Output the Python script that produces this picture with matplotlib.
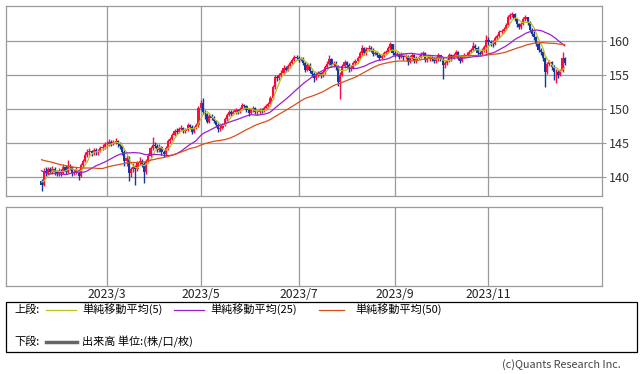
import numpy as np
import pandas as pd
import matplotlib
matplotlib.use("Agg")
import matplotlib.pyplot as plt
from matplotlib.lines import Line2D
from matplotlib.patches import Rectangle

plt.rcParams['font.family'] = ['Noto Sans CJK JP', 'DejaVu Sans']

# ---- data -------------------------------------------------------------
# closes before the visible window (used only for the moving averages)
pre_close = [146.0, 144.6, 144.2, 144.4, 145.0, 145.5, 145.3, 145.1, 144.9, 144.9,
             144.6, 144.1, 144.0, 143.7, 143.6,
             141.9, 142.0, 143.2, 143.3, 143.6, 143.6, 143.4, 143.6, 144.3, 145.2,
             145.4, 144.5, 144.6, 140.4, 139.7, 140.5, 141.2, 141.7, 142.2, 141.8,
             141.6, 140.4,
             139.2, 138.4, 139.6, 139.3, 140.8, 141.7, 141.9, 141.8, 140.4, 138.7,
             139.0, 139.4]

closes = [
    # Jan
    138.8, 140.9, 140.6, 141.1, 140.8, 141.2, 140.7, 140.5, 140.9, 140.6,
    # Feb
    141.5, 140.8, 141.6, 141.4, 140.6, 140.8, 141.0, 140.2, 141.8, 142.4,
    143.3, 143.6, 143.8, 143.5, 144.0, 143.6, 143.8, 144.3, 144.4, 144.8,
    # Mar
    144.9, 145.2, 144.9, 145.1, 145.3, 144.8, 144.5, 143.6, 142.3, 142.8,
    140.6, 141.1, 141.5, 141.2, 142.0, 142.4, 141.9, 140.7, 142.4, 143.1,
    144.2, 144.7, 144.6,
    # Apr
    144.0, 144.4, 143.7, 143.4, 144.2, 145.3, 145.6, 146.2, 146.8, 146.6,
    147.0, 147.2, 146.8, 146.9, 147.6, 147.4, 146.6, 147.2, 147.6, 150.2,
    # May
    150.9, 149.6, 149.2, 148.1, 148.9, 148.7, 148.2, 147.7, 147.0, 147.2,
    147.7, 148.5, 149.1, 149.5, 149.3, 149.5, 149.8, 149.6, 150.0, 150.6,
    150.5, 149.9, 149.4,
    # Jun
    149.8, 150.2, 149.5, 149.6, 149.8, 149.7, 150.1, 150.4, 150.8, 151.6,
    153.3, 154.7, 154.5, 155.0, 155.3, 156.1, 155.8, 156.3, 156.8, 157.2,
    157.7, 157.5,
    # Jul
    157.2, 157.4, 156.8, 155.8, 156.5, 155.6, 155.2, 154.6, 155.0, 155.3,
    154.9, 155.4, 156.2, 156.6, 157.3, 156.5, 156.7, 156.2, 154.0, 155.0,
    156.3,
    # Aug
    156.9, 156.5, 155.9, 156.1, 156.7, 157.0, 157.5, 158.3, 158.9, 158.2,
    158.8, 159.0, 158.7, 158.1, 158.3, 158.0, 157.5, 157.8, 158.2, 158.4,
    158.9, 159.5, 158.3,
    # Sep
    158.0, 158.1, 157.7, 158.1, 157.6, 157.8, 156.9, 157.6, 157.9, 157.0,
    157.5, 157.7, 158.1, 158.2, 157.2, 157.4, 157.6, 157.4, 157.1, 157.3,
    157.9,
    # Oct
    157.3, 156.5, 156.7, 157.1, 158.0, 157.5, 158.0, 158.4, 157.5, 157.1,
    157.7, 157.9, 158.0, 158.4, 158.7, 159.3, 159.0, 158.2, 158.1, 158.6,
    159.1, 160.2,
    # Nov
    159.8, 159.7, 159.6, 160.5, 160.8, 161.3, 161.4, 161.8, 162.3, 163.5,
    163.8, 164.0, 163.2, 162.5, 162.0, 162.5, 163.2, 163.5, 162.7, 161.6,
    161.1, 160.6,
    # Dec
    159.6, 158.7, 158.4, 157.5, 155.4, 156.6, 156.9, 156.2, 155.4, 155.5,
    155.0, 155.6, 157.5, 156.8,
]

highs = [
    139.7, 141.3, 141.4, 141.5, 141.4, 141.6, 141.5, 141.0, 141.3, 141.2,
    141.9, 141.7, 142.5, 141.9, 141.6, 141.2, 141.4, 141.2, 142.0, 142.7,
    143.6, 144.1, 144.2, 144.0, 144.3, 144.2, 144.1, 144.6, 144.8, 145.2,
    145.3, 145.6, 145.4, 145.4, 145.7, 145.5, 145.1, 144.7, 143.9, 143.3,
    143.1, 141.5, 142.0, 141.8, 142.4, 142.9, 142.6, 142.2, 142.7, 143.5,
    144.5, 145.9, 145.2,
    144.9, 144.8, 144.6, 144.0, 144.5, 145.6, 145.9, 146.5, 147.1, 147.2,
    147.3, 147.6, 147.4, 147.2, 147.9, 147.8, 147.6, 147.5, 148.0, 150.5,
    151.3, 151.6, 149.9, 149.4, 149.2, 149.2, 148.9, 148.4, 147.9, 147.6,
    148.0, 148.8, 149.4, 149.8, 149.8, 149.8, 150.1, 150.0, 150.3, 150.9,
    150.8, 150.6, 150.1,
    150.1, 150.5, 150.3, 149.9, 150.1, 150.1, 150.4, 150.7, 151.1, 151.9,
    153.6, 155.0, 155.0, 155.3, 155.7, 156.4, 156.3, 156.6, 157.1, 157.5,
    158.0, 158.0,
    157.8, 157.7, 157.6, 157.0, 156.8, 156.7, 155.8, 155.4, 155.3, 155.6,
    155.5, 155.7, 156.5, 157.0, 157.9, 157.5, 157.0, 157.0, 156.4, 155.4,
    156.6,
    157.2, 157.1, 156.7, 156.5, 157.0, 157.3, 157.8, 158.6, 159.4, 159.1,
    159.1, 159.4, 159.2, 158.9, 158.6, 158.6, 158.2, 158.1, 158.5, 158.7,
    159.2, 159.8, 159.6,
    158.6, 158.4, 158.3, 158.4, 158.3, 158.1, 158.0, 157.9, 158.2, 158.1,
    157.8, 158.0, 158.4, 158.6, 158.4, 157.7, 157.9, 157.8, 157.6, 157.6,
    158.2,
    158.0, 157.6, 157.0, 157.4, 158.3, 158.1, 158.3, 158.7, 158.6, 157.8,
    158.0, 158.2, 158.4, 158.7, 159.0, 159.9, 159.6, 159.2, 158.5, 158.9,
    159.4, 160.9,
    160.6, 160.2, 160.1, 160.8, 161.1, 161.6, 161.8, 162.1, 162.6, 163.8,
    164.1, 164.3, 164.1, 163.4, 162.7, 162.8, 163.5, 163.8, 163.6, 162.9,
    161.9, 161.4,
    160.8, 159.8, 159.0, 158.6, 157.7, 156.9, 157.2, 157.1, 156.4, 155.9,
    155.8, 155.9, 158.4, 157.7,
]

lows = [
    137.9, 138.6, 140.2, 140.3, 140.4, 140.5, 140.3, 140.1, 140.2, 140.2,
    140.4, 140.4, 140.6, 141.0, 140.2, 140.3, 140.5, 139.6, 140.0, 141.5,
    142.2, 143.0, 143.3, 143.1, 143.2, 143.3, 143.3, 143.6, 144.0, 144.1,
    144.4, 144.6, 144.5, 144.7, 144.8, 144.4, 144.1, 143.2, 141.6, 141.6,
    139.4, 140.0, 140.8, 138.8, 140.9, 141.7, 141.4, 139.1, 140.5, 142.1,
    142.9, 144.0, 144.2,
    143.6, 143.7, 143.3, 143.0, 143.2, 144.0, 145.0, 145.4, 146.0, 146.3,
    146.4, 146.8, 146.4, 146.5, 146.7, 147.0, 146.3, 146.4, 147.0, 147.4,
    149.9, 149.3, 148.6, 147.9, 147.9, 148.4, 147.9, 147.3, 146.6, 146.8,
    147.0, 147.5, 148.3, 148.9, 149.0, 149.1, 149.3, 149.3, 149.4, 149.8,
    150.2, 149.6, 149.0,
    149.2, 149.6, 149.2, 149.1, 149.3, 149.4, 149.5, 149.9, 150.2, 150.5,
    151.4, 153.0, 154.1, 154.2, 154.7, 155.1, 155.4, 155.6, 156.0, 156.6,
    157.0, 157.2,
    156.9, 157.0, 156.5, 155.5, 155.6, 155.3, 154.7, 153.9, 154.3, 154.7,
    154.5, 154.7, 155.2, 156.0, 156.4, 156.2, 156.2, 155.8, 153.4, 151.4,
    154.8,
    156.0, 156.0, 155.5, 155.6, 155.9, 156.4, 156.8, 157.3, 158.0, 157.9,
    158.0, 158.5, 158.4, 157.8, 157.9, 157.7, 157.2, 157.3, 157.6, 158.0,
    158.2, 158.7, 158.0,
    157.7, 157.8, 157.3, 157.5, 157.2, 157.4, 156.5, 156.7, 157.4, 156.7,
    156.8, 157.3, 157.5, 157.8, 156.9, 156.9, 157.1, 157.1, 156.7, 156.8,
    157.1,
    157.0, 154.4, 156.0, 156.4, 156.9, 157.1, 157.3, 157.8, 157.2, 156.8,
    156.9, 157.5, 157.6, 157.8, 158.2, 158.5, 158.7, 157.9, 157.8, 157.9,
    158.4, 158.3,
    159.4, 159.3, 159.1, 159.4, 160.2, 160.6, 161.0, 161.2, 161.6, 162.1,
    163.2, 163.5, 162.9, 162.1, 161.7, 161.8, 162.3, 163.0, 162.4, 161.3,
    160.8, 160.2,
    159.2, 158.4, 158.0, 157.1, 153.2, 155.1, 156.3, 155.8, 154.3, 153.8,
    154.6, 154.8, 155.4, 156.4,
]

date_labels = ["2023/3", "2023/5", "2023/7", "2023/9", "2023/11"]
ma_windows = [5, 25, 50]
ma_names = ["単純移動平均(5)", "単純移動平均(25)", "単純移動平均(50)"]
ma_colors = ["#b9c41e", "#9a1fd0", "#d8501c"]
y_ticks = [140, 145, 150, 155, 160]

# ---- derived ----------------------------------------------------------
dates = pd.bdate_range("2023-01-18", periods=len(closes))
idx = np.arange(len(closes))
opens = [pre_close[-1]] + closes[:-1]
all_close = pd.Series(pre_close + closes)
mas = [all_close.rolling(w).mean().values[len(pre_close):] for w in ma_windows]

tick_pos = []
for lab in date_labels:
    y, m = lab.split("/")
    first = np.where((dates.year == int(y)) & (dates.month == int(m)))[0][0]
    tick_pos.append(first)

# ---- figure -----------------------------------------------------------
W, H = 643, 374
fig = plt.figure(figsize=(W / 100, H / 100), dpi=100)
fig.patch.set_facecolor("white")

def fx(px):
    return px / W

def fy(py):
    return 1 - py / H

grid_c = "#9a9a9a"
ax = fig.add_axes([fx(6), fy(196), fx(596), 190 / H])
axv = fig.add_axes([fx(6), fy(286), fx(596), 79 / H])

up_c, dn_c = "#ff0a3c", "#14389c"
o = np.array(opens); c = np.array(closes)
h = np.maximum(np.array(highs), np.maximum(o, c))
l = np.minimum(np.array(lows), np.minimum(o, c))
cols = np.where(c >= o, up_c, dn_c)
ax.vlines(idx, l, h, colors=cols, linewidth=1.0, zorder=3)
body = np.maximum(np.abs(c - o), 0.1)
ax.bar(idx, body, bottom=np.minimum(o, c), width=1.0, color=cols,
       linewidth=0, zorder=3)
for ma, col in zip(mas, ma_colors):
    ax.plot(idx, ma, color=col, linewidth=0.9, zorder=4)

xlim = (-16.3, 257.1)
for a in (ax, axv):
    a.set_xlim(*xlim)
    a.set_xticks(tick_pos)
    for s in a.spines.values():
        s.set_color(grid_c)
        s.set_linewidth(0.9)
    a.grid(axis="x", color=grid_c, linewidth=0.9)
    a.set_axisbelow(True)

ax.set_ylim(137.2, 165.15)
ax.set_yticks(y_ticks)
ax.grid(axis="y", color=grid_c, linewidth=0.9)
ax.yaxis.tick_right()
ax.tick_params(axis="y", colors=grid_c, length=3, width=0.8, labelsize=9,
               labelcolor="#333333", pad=2)
ax.tick_params(axis="x", length=0, labelbottom=False)

axv.set_ylim(0, 1)
axv.set_yticks([])
axv.set_xticklabels(date_labels)
axv.tick_params(axis="x", length=0, labelsize=8.8, labelcolor="#222222", pad=1.5)

# legend box
fig.add_artist(Rectangle((fx(6), fy(352.3)), fx(631), (352.3 - 301.7) / H,
                         transform=fig.transFigure, fill=False,
                         edgecolor="black", linewidth=0.9))
ty1, ty2 = fy(309.5), fy(341.5)
fs = 8
fig.text(fx(14), ty1, "上段:", fontsize=fs, va="center", ha="left")
seg = [(46, 76, 82), (174, 204, 210), (319, 344, 355)]
for (x0, x1, xt), name, col in zip(seg, ma_names, ma_colors):
    fig.add_artist(Line2D([fx(x0), fx(x1)], [ty1, ty1], color=col,
                          linewidth=0.9, transform=fig.transFigure))
    fig.text(fx(xt), ty1, name, fontsize=fs, va="center", ha="left")
fig.text(fx(14), ty2, "下段:", fontsize=fs, va="center", ha="left")
fig.add_artist(Line2D([fx(46), fx(77)], [ty2, ty2], color="#666666",
                      linewidth=2.5, transform=fig.transFigure))
fig.text(fx(82), ty2, "出来高 単位:(株/口/枚)", fontsize=fs, va="center", ha="left")

fig.text(fx(621), fy(365), "(c)Quants Research Inc.", fontsize=7.8,
         va="center", ha="right", color="#444444")

fig.savefig("out.png", dpi=100)
